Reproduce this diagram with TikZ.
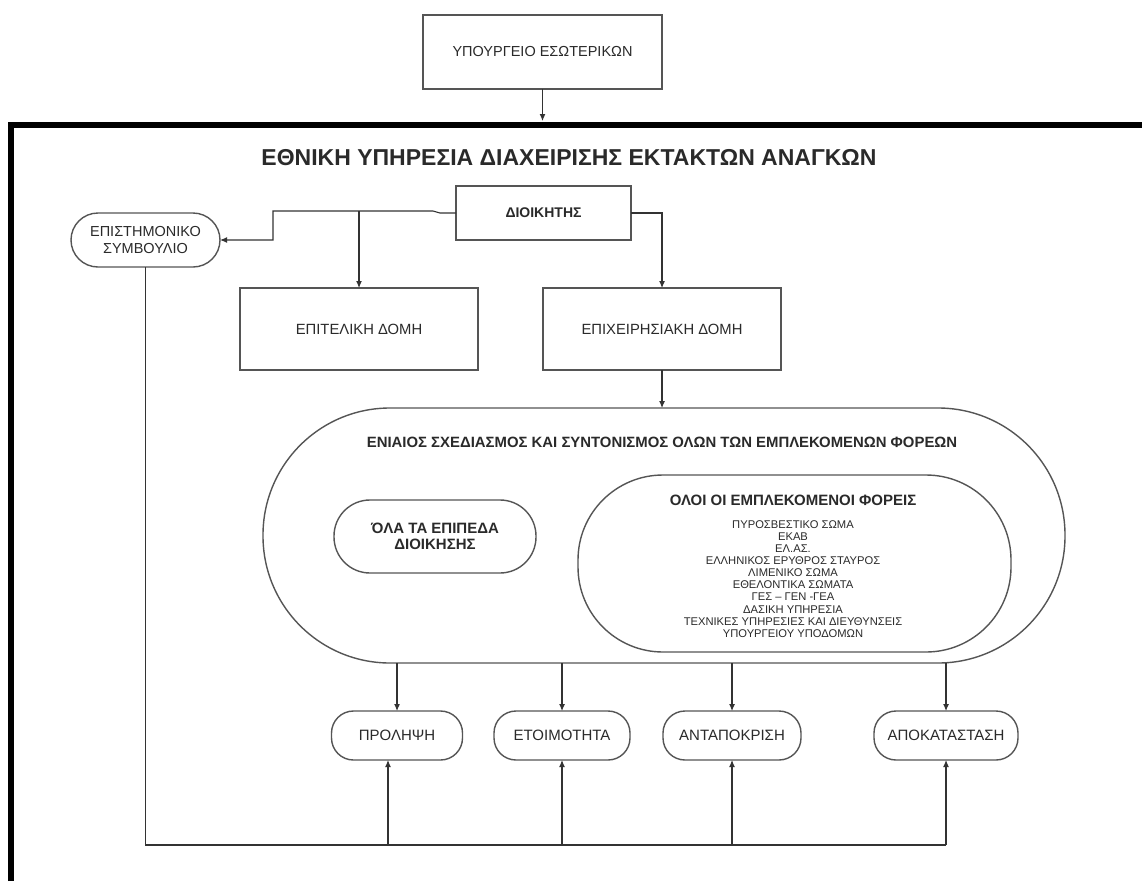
\documentclass[tikz,border=0pt]{standalone}
\usepackage{fontspec}
\setmainfont{Liberation Sans}
\usetikzlibrary{arrows.meta}
\begin{document}
\begin{tikzpicture}[x=1pt,y=-1pt,
  every node/.style={inner sep=0pt,outer sep=0pt,align=center,text=txt},
  box/.style={draw=edge,line width=1.4pt,rectangle},
  pill/.style={draw=edge,line width=1.4pt,rectangle},
  link/.style={draw=wire,line width=1.1pt},
  arr/.style={link,-{Latex[length=7pt,width=6pt]}},
  reg/.style={font=\fontsize{#1}{#1}\selectfont},
  bld/.style={font=\fontsize{#1}{#1}\selectfont\bfseries}]
\definecolor{edge}{HTML}{555555}
\definecolor{wire}{HTML}{333333}
\definecolor{txt}{HTML}{2A2A2A}
\useasboundingbox[fill=white] (0,0) rectangle (1142,881);

% ministry box above the service frame
\node[box,minimum width=239pt,minimum height=74pt,reg=14.5] (min) at (542.5,52) {ΥΠΟΥΡΓΕΙΟ ΕΣΩΤΕΡΙΚΩΝ};
\coordinate (ftop) at (542.5,121);
\draw[arr] (min.south) -- (ftop);

% thick frame of the service
\draw[line width=6.5pt,black] (11,881) -- (11,125) -- (1142,125);
\node[bld=23] (title) at (569,158) {ΕΘΝΙΚΗ ΥΠΗΡΕΣΙΑ ΔΙΑΧΕΙΡΙΣΗΣ ΕΚΤΑΚΤΩΝ ΑΝΑΓΚΩΝ};

% head of the service and its two structures
\node[box,minimum width=175pt,minimum height=54pt,bld=14] (dir) at (543.5,213) {ΔΙΟΙΚΗΤΗΣ};
\node[pill,rounded corners=27pt,minimum width=149pt,minimum height=54pt,font=\fontsize{14.5}{16.7}\selectfont] (sci) at (145.5,240)
  {ΕΠΙΣΤΗΜΟΝΙΚΟ\\ΣΥΜΒΟΥΛΙΟ};
\node[box,minimum width=238pt,minimum height=82pt,reg=14.8] (stf) at (359,329) {ΕΠΙΤΕΛΙΚΗ ΔΟΜΗ};
\node[box,minimum width=238pt,minimum height=82pt,reg=14.8] (ops) at (662,329) {ΕΠΙΧΕΙΡΗΣΙΑΚΗ ΔΟΜΗ};

\coordinate (j1) at (433,211);
\coordinate (k1) at (273,211);
\draw[arr] (dir.west) -- ++(-16,0) -- (j1) -- (k1) |- (sci.east);
\draw[arr] (stf.north |- j1) -- (stf.north);
\draw[arr] (dir.east) -| (ops.north);

% coordination area
\node[pill,rounded corners=127pt,minimum width=802pt,minimum height=255pt] (big) at (664,535.5) {};
\node[bld=14.9] (bigt) at (662,442) {ΕΝΙΑΙΟΣ ΣΧΕΔΙΑΣΜΟΣ ΚΑΙ ΣΥΝΤΟΝΙΣΜΟΣ ΟΛΩΝ ΤΩΝ ΕΜΠΛΕΚΟΜΕΝΩΝ ΦΟΡΕΩΝ};
\draw[arr] (ops.south) -- (ops.south |- big.north);

\node[pill,rounded corners=36pt,minimum width=202pt,minimum height=73pt,font=\fontsize{15}{16}\selectfont\bfseries] (lvl) at (435,536.5)
  {ΌΛΑ ΤΑ ΕΠΙΠΕΔΑ\\ΔΙΟΙΚΗΣΗΣ};
\node[pill,rounded corners=85pt,minimum width=433pt,minimum height=177pt] (all) at (794.5,563.5) {};
\node[bld=15] (allt) at (793,500) {ΟΛΟΙ ΟΙ ΕΜΠΛΕΚΟΜΕΝΟΙ ΦΟΡΕΙΣ};
\node[font=\fontsize{11.2}{12.1}\selectfont,anchor=north] (list) at (793,520.5)
  {ΠΥΡΟΣΒΕΣΤΙΚΟ ΣΩΜΑ\\ ΕΚΑΒ\\ ΕΛ.ΑΣ.\\ ΕΛΛΗΝΙΚΟΣ ΕΡΥΘΡΟΣ ΣΤΑΥΡΟΣ\\ ΛΙΜΕΝΙΚΟ ΣΩΜΑ\\
   ΕΘΕΛΟΝΤΙΚΑ ΣΩΜΑΤΑ\\ ΓΕΣ – ΓΕΝ -ΓΕΑ\\ ΔΑΣΙΚΗ ΥΠΗΡΕΣΙΑ\\ ΤΕΧΝΙΚΕΣ ΥΠΗΡΕΣΙΕΣ ΚΑΙ ΔΙΕΥΘΥΝΣΕΙΣ\\ ΥΠΟΥΡΓΕΙΟΥ ΥΠΟΔΟΜΩΝ};

% phases of emergency management
\node[pill,rounded corners=22pt,minimum width=131pt,minimum height=49pt,reg=15] (p1) at (397,735.5) {ΠΡΟΛΗΨΗ};
\node[pill,rounded corners=22pt,minimum width=136pt,minimum height=49pt,reg=15] (p2) at (562,735.5) {ΕΤΟΙΜΟΤΗΤΑ};
\node[pill,rounded corners=22pt,minimum width=138pt,minimum height=49pt,reg=15] (p3) at (732,735.5) {ΑΝΤΑΠΟΚΡΙΣΗ};
\node[pill,rounded corners=22pt,minimum width=144pt,minimum height=49pt,reg=15] (p4) at (946,735.5) {ΑΠΟΚΑΤΑΣΤΑΣΗ};

\foreach \p in {p1,p2,p3,p4}
  \draw[arr] (\p.north |- big.south) -- (\p.north);

% feedback from the scientific council
\coordinate (bus) at (0,845);
\draw[link] (sci.south) |- (p4.south |- bus);
\draw[arr] ([xshift=-9pt]p1.south |- bus) -- ([xshift=-9pt]p1.south);
\foreach \p in {p2,p3,p4}
  \draw[arr] (\p.south |- bus) -- (\p.south);
\end{tikzpicture}
\end{document}
